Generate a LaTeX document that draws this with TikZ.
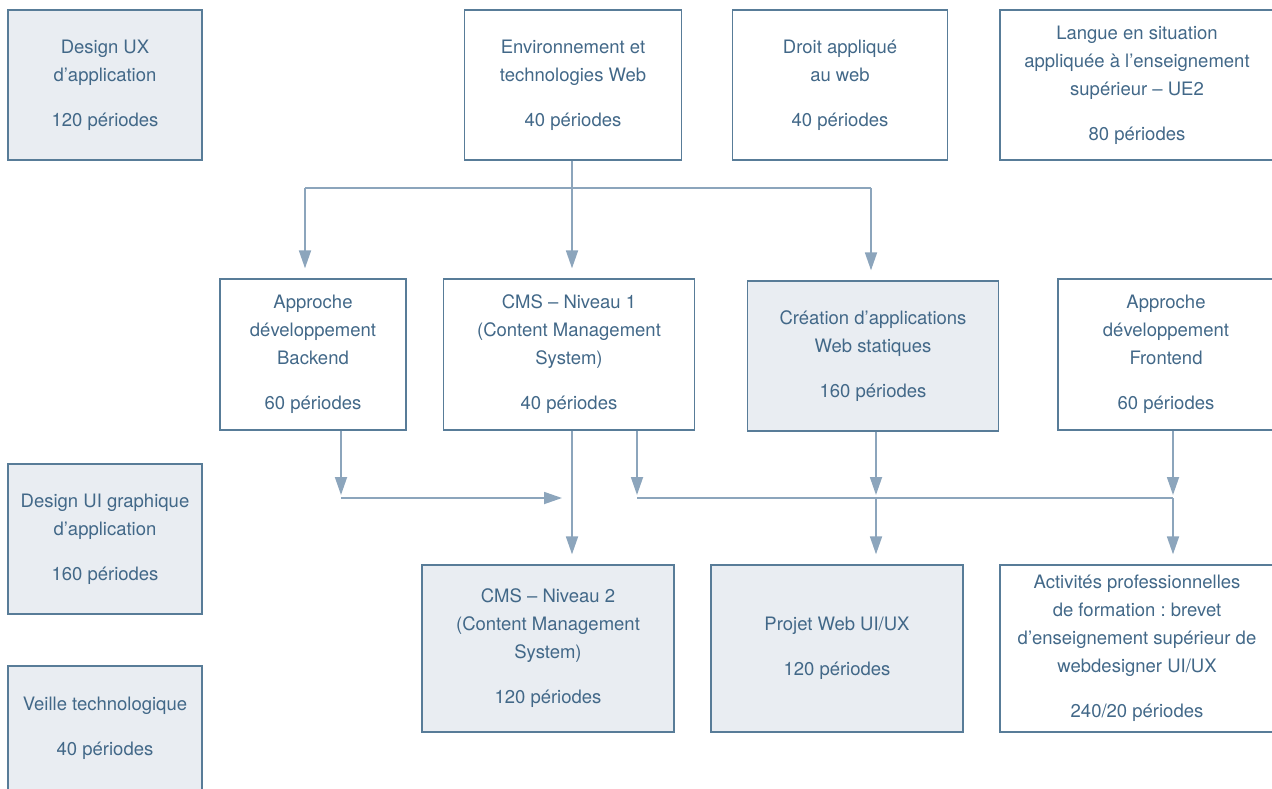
\documentclass[tikz,border=0pt]{standalone}
\usepackage{fontspec}
\setmainfont{TeX Gyre Heros}
\usepackage{xcolor}
\usepackage{tikz}
\usetikzlibrary{
    calc,
    arrows.meta
}
\frenchspacing
\definecolor{bordure}{RGB}{88,124,152}
\definecolor{texte}{RGB}{66,104,136}
\definecolor{fond}{RGB}{233,237,242}
\definecolor{lien}{RGB}{140,165,188}
\tikzset{
    cours/.style={draw=bordure, line width=1.3pt, text=texte, align=center,
        inner sep=0pt, font=\fontsize{18.5}{28}\selectfont},
    coursgris/.style={cours, fill=fond},
    fil/.style={draw=lien, line width=1.8pt},
    fleche/.style={fil, -{Triangle[length=18pt,width=12pt]}}
}

\begin{document}
\begin{tikzpicture}[x=1pt,y=-1pt]
        \useasboundingbox (0,0) rectangle (1272,788);

        \node[coursgris, minimum width=194pt, minimum height=150pt] (ux)      at ( 105, 85.0) {Design UX\\d’application\\[17pt]120 périodes};
        \node[cours,     minimum width=217pt, minimum height=150pt] (env)     at ( 573, 85.0) {Environnement et\\technologies Web\\[17pt]40 périodes};
        \node[cours,     minimum width=215pt, minimum height=150pt] (droit)   at ( 840, 85.0) {Droit appliqué\\au web\\[17pt]40 périodes};
        \node[cours,     minimum width=274pt, minimum height=150pt] (langue)  at (1137, 85.0) {Langue en situation\\appliquée à l’enseignement\\supérieur – UE2\\[17pt]80 périodes};

        \node[cours,     minimum width=186pt, minimum height=151pt] (back)    at ( 313,354.5) {Approche\\développement\\Backend\\[17pt]60 périodes};
        \node[cours,     minimum width=251pt, minimum height=151pt] (cmsun)   at ( 569,354.5) {CMS – Niveau 1\\(Content Management\\System)\\[17pt]40 périodes};
        \node[coursgris, minimum width=251pt, minimum height=150pt] (statiq)  at ( 873,356.0) {Création d’applications\\Web statiques\\[17pt]160 périodes};
        \node[cours,     minimum width=216pt, minimum height=151pt] (front)   at (1166,354.5) {Approche\\développement\\Frontend\\[17pt]60 périodes};

        \node[coursgris, minimum width=194pt, minimum height=150pt] (ui)      at ( 105,539.0) {Design UI graphique\\d’application\\[17pt]160 périodes};
        \node[coursgris, minimum width=194pt, minimum height=124pt] (veille)  at ( 105,728.0) {Veille technologique\\[17pt]40 périodes};

        \node[coursgris, minimum width=252pt, minimum height=167pt] (cmsdeux) at ( 548,648.5) {CMS – Niveau 2\\(Content Management\\System)\\[17pt]120 périodes};
        \node[coursgris, minimum width=252pt, minimum height=167pt] (projet)  at ( 837,648.5) {Projet Web UI/UX\\[17pt]120 périodes};
        \node[cours,     minimum width=274pt, minimum height=167pt] (activ)   at (1137,648.5) {Activités professionnelles\\de formation : brevet\\d’enseignement supérieur de\\webdesigner UI/UX\\[17pt]240/20 périodes};

        \coordinate (haut)  at ( 572,188);
        \coordinate (hautg) at ( 305,188);
        \coordinate (hautd) at ( 871,188);

        \draw[fil] (env.south -| haut) -- (haut);
        \draw[fil] (hautg) -- (hautd);
        \draw[fleche] (hautg) -- ([yshift=10pt]back.north -| hautg);
        \draw[fleche] (haut)  -- ([yshift=10pt]cmsun.north -| haut);
        \draw[fleche] (hautd) -- ([yshift=10pt]statiq.north -| hautd);

        \coordinate (basa) at ( 341,498);
        \coordinate (basb) at ( 562,498);
        \coordinate (basc) at ( 572,498);
        \coordinate (basd) at ( 637,498);
        \coordinate (base) at ( 876,498);
        \coordinate (basf) at (1173,498);

        \draw[fleche] (back.south -| basa) -- ([yshift=3pt]basa);
        \draw[fleche] (basa) -- (basb);
        \draw[fleche] (cmsun.south -| basc) -- ([yshift=10pt]cmsdeux.north -| basc);
        \draw[fleche] (cmsun.south -| basd) -- ([yshift=3pt]basd);
        \draw[fleche] (statiq.south -| base) -- ([yshift=3pt]base);
        \draw[fleche] (front.south -| basf) -- ([yshift=3pt]basf);
        \draw[fil] (basd) -- (basf);
        \draw[fleche] (base) -- ([yshift=10pt]projet.north -| base);
        \draw[fleche] (basf) -- ([yshift=10pt]activ.north -| basf);
    \end{tikzpicture}
\end{document}
